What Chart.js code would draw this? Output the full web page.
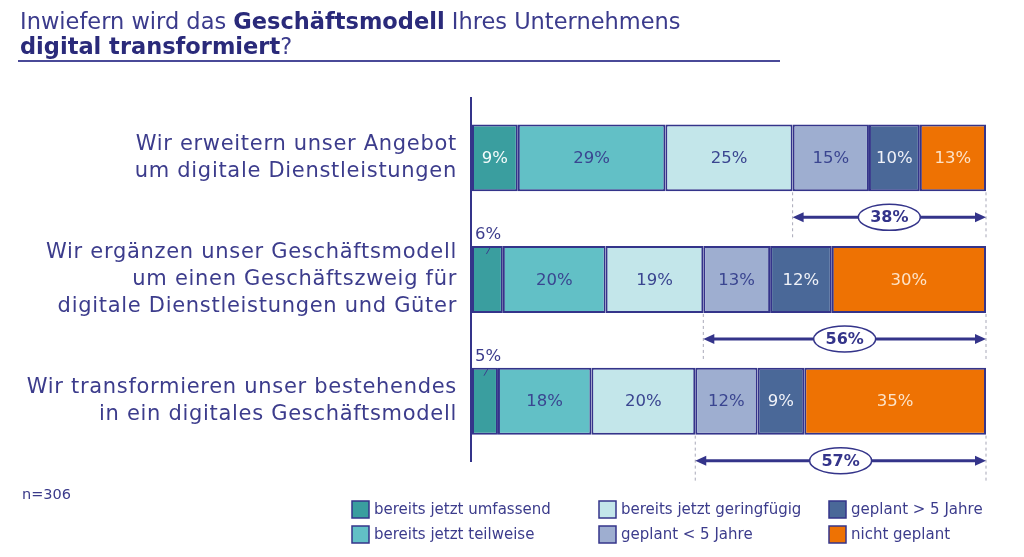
<!DOCTYPE html>
<html lang="de">
<head>
<meta charset="utf-8">
<script src="https://cdn.jsdelivr.net/npm/chart.js@4"></script>
<style>
  html, body { margin: 0; padding: 0; background: #fff; }
  #wrap { position: relative; width: 1024px; height: 557px; overflow: hidden; }
  #titel {
    position: absolute; left: 20px; top: 9px;
    font-family: "DejaVu Sans", sans-serif;
    font-size: 22.5px; line-height: 25px; color: #3b3b8c; white-space: nowrap;
  }
  #titel b { color: #2a2a7a; }
  #linie { position: absolute; left: 18px; top: 60px; width: 762px; height: 2px; background: #4a4a98; }
  #n { position: absolute; left: 22px; top: 486px; font-family: "DejaVu Sans", sans-serif; font-size: 14.5px; color: #3a3a8a; }
  canvas { position: absolute; left: 0; top: 0; }
</style>
</head>
<body>
<div id="wrap">
  <canvas id="grafik" width="1024" height="557"></canvas>
  <div id="titel">Inwiefern wird das <b>Geschäftsmodell</b> Ihres Unternehmens<br><b>digital transformiert</b>?</div>
  <div id="linie"></div>
  <div id="n">n=306</div>
</div>
<script>
// Kategorien (Aussagen)
const kategorien = [
    ["Wir erweitern unser Angebot", "um digitale Dienstleistungen"],
    ["Wir ergänzen unser Geschäftsmodell", "um einen Geschäftszweig für", "digitale Dienstleistungen und Güter"],
    ["Wir transformieren unser bestehendes", "in ein digitales Geschäftsmodell"]
];

// Serien
const serien = ["bereits jetzt umfassend", "bereits jetzt teilweise", "bereits jetzt geringfügig",
                "geplant < 5 Jahre", "geplant > 5 Jahre", "nicht geplant"];

// Werte in Prozent
const umfassend = [9, 6, 5];
const teilweise = [29, 20, 18];
const geringfuegig = [25, 19, 20];
const geplantKurz = [15, 13, 12];
const geplantLang = [10, 12, 9];
const nichtGeplant = [13, 30, 35];
const geplantGesamt = [38, 56, 57]; // Klammer-Werte unter den Balken

const werte = [umfassend, teilweise, geringfuegig, geplantKurz, geplantLang, nichtGeplant];
const farben = ["#3a9e9f", "#62c0c6", "#c3e6ea", "#9eaed0", "#4a6898", "#ee7203"];
const textFarben = ["#f4fbfb", "#3a4590", "#3a4590", "#3a4590", "#f0f2f8", "#fde3c8"];
const navy = "#34348a";

// Zeilensummen, damit jeder Balken die volle Breite füllt
const summen = kategorien.map((_, i) => werte.reduce((s, w) => s + w[i], 0));

const achsePlugin = {
    id: "achse",
    afterDatasetsDraw(chart) {
        const ctx = chart.ctx;
        const a = chart.chartArea;
        ctx.save();
        ctx.strokeStyle = navy;
        ctx.lineWidth = 2;
        ctx.beginPath();
        ctx.moveTo(a.left - 1, a.top);
        ctx.lineTo(a.left - 1, a.bottom);
        ctx.stroke();

        // Kategorie-Beschriftungen
        ctx.font = "21px 'DejaVu Sans', sans-serif";
        ctx.letterSpacing = "0.7px";
        ctx.fillStyle = "#3c3c8c";
        ctx.textAlign = "right";
        ctx.textBaseline = "middle";
        const yScale = chart.scales.y;
        kategorien.forEach((zeilen, i) => {
            const yc = yScale.getPixelForValue(i);
            const start = yc - (zeilen.length - 1) * 27 / 2;
            zeilen.forEach((z, k) => ctx.fillText(z, a.left - 15, start + k * 27));
        });
        ctx.restore();
    }
};

const beschriftungPlugin = {
    id: "beschriftung",
    afterDatasetsDraw(chart) {
        const ctx = chart.ctx;
        ctx.save();
        ctx.textBaseline = "middle";
        ctx.textAlign = "center";
        ctx.font = "16.5px 'DejaVu Sans', sans-serif";
        chart.data.datasets.forEach((ds, di) => {
            const meta = chart.getDatasetMeta(di);
            meta.data.forEach((el, i) => {
                const p = el.getProps(["x", "y", "base", "height"], true);
                const wert = werte[di][i];
                const cx = (p.x + p.base) / 2;
                if (wert < 8 && di === 0 && i > 0) {
                    const oben = p.y - p.height / 2;
                    ctx.fillStyle = "#3c3c8c";
                    ctx.textAlign = "left";
                    ctx.fillText(wert + "%", p.base + 3, oben - 11);
                    ctx.strokeStyle = "#3c3c8c";
                    ctx.lineWidth = 1;
                    ctx.beginPath();
                    ctx.moveTo(cx + 3, oben + 1);
                    ctx.lineTo(cx - 1, oben + 8);
                    ctx.stroke();
                    ctx.textAlign = "center";
                } else {
                    ctx.fillStyle = textFarben[di];
                    ctx.fillText(wert + "%", cx, p.y + 1);
                }
            });
        });
        ctx.restore();
    }
};

const pfeilPlugin = {
    id: "pfeile",
    afterDatasetsDraw(chart) {
        const ctx = chart.ctx;
        const xScale = chart.scales.x;
        const meta = chart.getDatasetMeta(3);
        ctx.save();
        geplantGesamt.forEach((g, i) => {
            const p = meta.data[i].getProps(["x", "y", "base", "height"], true);
            const x0 = xScale.getPixelForValue((umfassend[i] + teilweise[i] + geringfuegig[i]) / summen[i] * 100);
            const x1 = chart.chartArea.right;
            const unten = p.y + p.height / 2;
            const ay = unten + 26;

            // gestrichelte Hilfslinien
            ctx.strokeStyle = "#a8a8b8";
            ctx.lineWidth = 1;
            ctx.setLineDash([3, 3]);
            [x0, x1].forEach(x => {
                ctx.beginPath();
                ctx.moveTo(x, unten + 1);
                ctx.lineTo(x, ay + 22);
                ctx.stroke();
            });
            ctx.setLineDash([]);

            // Pfeil
            ctx.strokeStyle = navy;
            ctx.fillStyle = navy;
            ctx.lineWidth = 3;
            ctx.beginPath();
            ctx.moveTo(x0 + 8, ay);
            ctx.lineTo(x1 - 8, ay);
            ctx.stroke();
            [[x0, 1], [x1, -1]].forEach(([x, d]) => {
                ctx.beginPath();
                ctx.moveTo(x, ay);
                ctx.lineTo(x + d * 11, ay - 5);
                ctx.lineTo(x + d * 11, ay + 5);
                ctx.closePath();
                ctx.fill();
            });

            // Oval mit Wert
            const mx = (x0 + x1) / 2;
            ctx.beginPath();
            ctx.ellipse(mx, ay, 31, 13, 0, 0, Math.PI * 2);
            ctx.fillStyle = "#fff";
            ctx.fill();
            ctx.lineWidth = 1.5;
            ctx.stroke();
            ctx.fillStyle = navy;
            ctx.font = "bold 16px 'DejaVu Sans', sans-serif";
            ctx.textAlign = "center";
            ctx.textBaseline = "middle";
            ctx.fillText(g + "%", mx, ay + 1);
        });
        ctx.restore();
    }
};

const legendePlugin = {
    id: "legende",
    afterDraw(chart) {
        const ctx = chart.ctx;
        const spalten = [352, 599, 829];
        const reihen = [509, 534];
        ctx.save();
        ctx.font = "15px 'DejaVu Sans', sans-serif";
        ctx.textBaseline = "middle";
        ctx.textAlign = "left";
        serien.forEach((s, i) => {
            const x = spalten[Math.floor(i / 2)];
            const y = reihen[i % 2];
            ctx.fillStyle = farben[i];
            ctx.fillRect(x, y - 8, 17, 17);
            ctx.strokeStyle = navy;
            ctx.lineWidth = 1.5;
            ctx.strokeRect(x, y - 8, 17, 17);
            ctx.fillStyle = "#3c3c8c";
            ctx.fillText(s, x + 22, y + 1);
        });
        ctx.restore();
    }
};

new Chart(document.getElementById("grafik").getContext("2d"), {
    type: "bar",
    data: {
        labels: kategorien,
        datasets: serien.map((s, di) => ({
            label: s,
            data: werte[di].map((w, i) => w / summen[i] * 100),
            backgroundColor: farben[di],
            borderColor: navy,
            borderWidth: 2,
            borderSkipped: false,
            barPercentage: 0.55,
            categoryPercentage: 1
        }))
    },
    options: {
        indexAxis: "y",
        responsive: false,
        animation: false,
        layout: { padding: { left: 472, right: 38, top: 97, bottom: 95 } },
        plugins: { legend: { display: false }, tooltip: { enabled: false } },
        scales: {
            x: { stacked: true, min: 0, max: 100, display: false },
            y: { stacked: true, display: false }
        }
    },
    plugins: [achsePlugin, beschriftungPlugin, pfeilPlugin, legendePlugin]
});
</script>
</body>
</html>
